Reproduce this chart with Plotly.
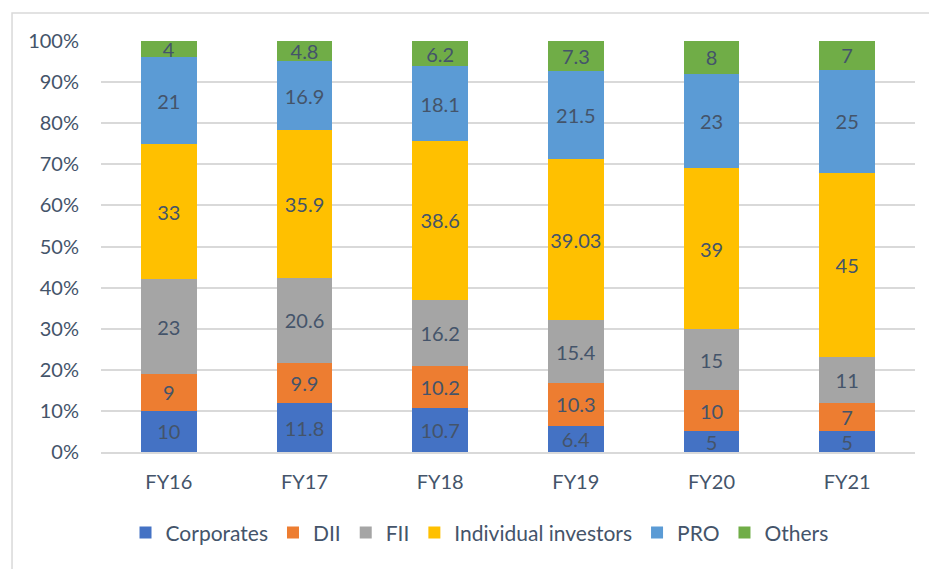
import plotly.graph_objects as go

# Shareholding mix by investor category, fiscal years
years = ["FY16", "FY17", "FY18", "FY19", "FY20", "FY21"]

corporates = [10, 11.8, 10.7, 6.4, 5, 5]
dii = [9, 9.9, 10.2, 10.3, 10, 7]
fii = [23, 20.6, 16.2, 15.4, 15, 11]
individual = [33, 35.9, 38.6, 39.03, 39, 45]
pro = [21, 16.9, 18.1, 21.5, 23, 25]
others = [4, 4.8, 6.2, 7.3, 8, 7]

series = [
    ("Corporates", corporates, "#4472C4"),
    ("DII", dii, "#ED7D31"),
    ("FII", fii, "#A5A5A5"),
    ("Individual investors", individual, "#FFC000"),
    ("PRO", pro, "#5B9BD5"),
    ("Others", others, "#70AD47"),
]

FONT = "Lato, 'Noto Sans', sans-serif"
TEXT_COLOR = "#44546A"

fig = go.Figure()
for name, vals, color in series:
    fig.add_trace(go.Bar(
        name=name,
        x=years,
        y=vals,
        marker=dict(color=color, line=dict(width=0)),
        text=[f"{v:g}" for v in vals],
        textposition="inside",
        insidetextanchor="middle",
        textangle=0,
        constraintext="none",
        textfont=dict(family=FONT, size=20, color=TEXT_COLOR),
    ))

fig.update_layout(
    width=929,
    height=569,
    barmode="stack",
    barnorm="percent",
    bargap=0.59,
    plot_bgcolor="white",
    paper_bgcolor="white",
    margin=dict(l=101, r=14, t=41, b=117),
    font=dict(family=FONT, size=20, color=TEXT_COLOR),
    uniformtext=dict(minsize=20, mode="show"),
    legend=dict(
        orientation="h",
        x=0.465, xanchor="center",
        y=-0.197, yanchor="middle",
        font=dict(family=FONT, size=21, color=TEXT_COLOR),
        itemwidth=30,
        traceorder="normal",
    ),
    showlegend=True,
)

fig.update_yaxes(
    range=[0, 100],
    tickmode="linear",
    tick0=0,
    dtick=10,
    ticksuffix="%",
    showgrid=True,
    gridcolor="#D9D9D9",
    gridwidth=1.5,
    zeroline=False,
    showline=False,
    ticklabelstandoff=21,
    tickfont=dict(family=FONT, size=20, color=TEXT_COLOR),
)

fig.update_xaxes(
    showline=True,
    linecolor="#D9D9D9",
    linewidth=2,
    showgrid=False,
    ticklabelstandoff=11,
    tickfont=dict(family=FONT, size=20, color=TEXT_COLOR),
)

# Chart frame
fig.add_shape(
    type="rect",
    xref="paper", yref="paper",
    x0=-0.1093, x1=1.2, y0=-0.5, y1=1.0681,
    line=dict(color="#D9D9D9", width=1.5),
    fillcolor="rgba(0,0,0,0)",
    layer="below",
)

fig.write_html("out.html")
